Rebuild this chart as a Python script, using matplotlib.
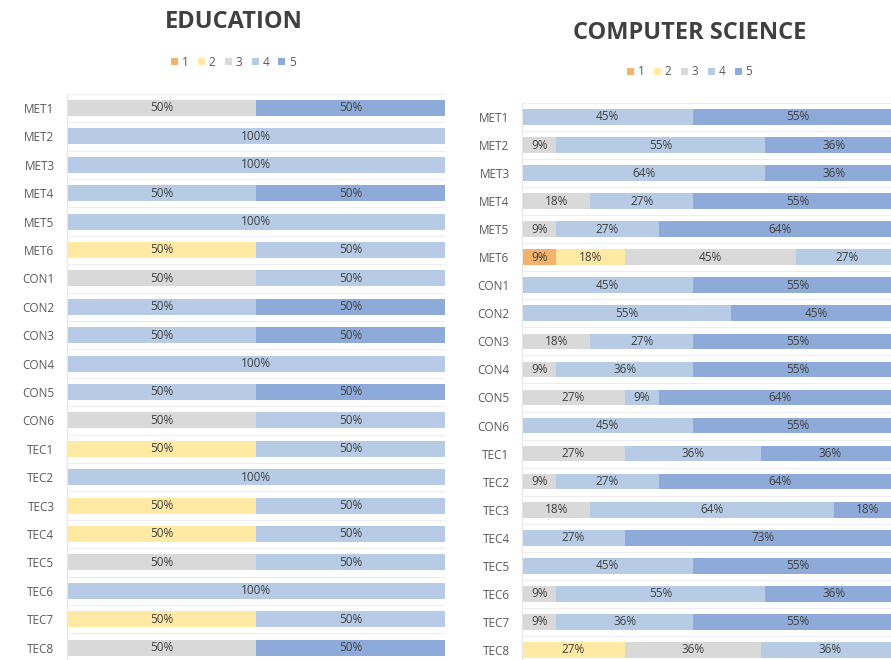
import numpy as np
import matplotlib
matplotlib.use("Agg")
import matplotlib.pyplot as plt
from matplotlib.patches import Patch

plt.rcParams['font.family'] = ['Open Sans', 'DejaVu Sans']

categories = ['MET1', 'MET2', 'MET3', 'MET4', 'MET5', 'MET6',
              'CON1', 'CON2', 'CON3', 'CON4', 'CON5', 'CON6',
              'TEC1', 'TEC2', 'TEC3', 'TEC4', 'TEC5', 'TEC6', 'TEC7', 'TEC8']
levels = ['1', '2', '3', '4', '5']

# Education: share of answers per level (percent)
edu_1 = [0] * 20
edu_2 = [0, 0, 0, 0, 0, 50, 0, 0, 0, 0, 0, 0, 50, 0, 50, 50, 0, 0, 50, 0]
edu_3 = [50, 0, 0, 0, 0, 0, 50, 0, 0, 0, 0, 50, 0, 0, 0, 0, 50, 0, 0, 50]
edu_4 = [0, 100, 100, 50, 100, 50, 50, 50, 50, 100, 50, 50, 50, 100, 50, 50, 50, 100, 50, 0]
edu_5 = [50, 0, 0, 50, 0, 0, 0, 50, 50, 0, 50, 0, 0, 0, 0, 0, 0, 0, 0, 50]

# Computer science
cs_1 = [0, 0, 0, 0, 0, 9, 0, 0, 0, 0, 0, 0, 0, 0, 0, 0, 0, 0, 0, 0]
cs_2 = [0, 0, 0, 0, 0, 18, 0, 0, 0, 0, 0, 0, 0, 0, 0, 0, 0, 0, 0, 27]
cs_3 = [0, 9, 0, 18, 9, 45, 0, 0, 18, 9, 27, 0, 27, 9, 18, 0, 0, 9, 9, 36]
cs_4 = [45, 55, 64, 27, 27, 27, 45, 55, 27, 36, 9, 45, 36, 27, 64, 27, 45, 55, 36, 36]
cs_5 = [55, 36, 36, 55, 64, 0, 55, 45, 55, 55, 64, 55, 36, 64, 18, 73, 55, 36, 55, 0]

colors = ['#F4B26A', '#FFE9A3', '#D9D9D9', '#B7CBE6', '#8EAAD8']
text_color = '#404040'


def draw_panel(ax, series):
    y = np.arange(len(categories))
    left = np.zeros(len(categories))
    for vals, col in zip(series, colors):
        vals = np.array(vals, dtype=float)
        ax.barh(y, vals, left=left, height=0.56, color=col, edgecolor='none')
        for yi, (l, v) in enumerate(zip(left, vals)):
            if v > 0:
                ax.text(l + v / 2, yi, f'{int(v)}%', ha='center', va='center',
                        fontsize=8.5, color=text_color)
        left += vals
    ax.set_xlim(0, 100)
    ax.set_ylim(len(categories) - 0.5, -0.5)
    ax.set_yticks(y)
    ax.set_yticklabels(categories, fontsize=8.5, color='#595959')
    ax.set_xticks([])
    for yb in np.arange(-0.5, len(categories), 1.0):
        ax.axhline(yb, color='#EDEDED', lw=0.8, zorder=0)
    for s in ['top', 'right', 'bottom']:
        ax.spines[s].set_visible(False)
    ax.spines['left'].set_color('#E6E6E6')
    ax.tick_params(axis='y', length=0, pad=9)


fig = plt.figure(figsize=(8.91, 6.6), dpi=100)

ax1 = fig.add_axes([0.0752, -0.0027, 0.4242, 0.8606])
draw_panel(ax1, [edu_1, edu_2, edu_3, edu_4, edu_5])

ax2 = fig.add_axes([0.5859, -0.006, 0.4265, 0.85])
draw_panel(ax2, [cs_1, cs_2, cs_3, cs_4, cs_5])

fig.text(0.262, 0.967, 'EDUCATION', ha='center', va='center',
         fontsize=17, fontweight='bold', color=text_color)
fig.text(0.774, 0.95, 'COMPUTER SCIENCE', ha='center', va='center',
         fontsize=17, fontweight='bold', color=text_color)

handles = [Patch(facecolor=c, edgecolor='none', label=l) for c, l in zip(colors, levels)]
leg_kw = dict(ncol=5, frameon=False, fontsize=8.5, handlelength=0.6, handleheight=0.6,
              handletextpad=0.3, columnspacing=0.8, labelcolor='#595959')
fig.legend(handles=handles, loc='center', bbox_to_anchor=(0.262, 0.906), **leg_kw)
fig.legend(handles=handles, loc='center', bbox_to_anchor=(0.774, 0.891), **leg_kw)

fig.savefig('out.png', dpi=100)
